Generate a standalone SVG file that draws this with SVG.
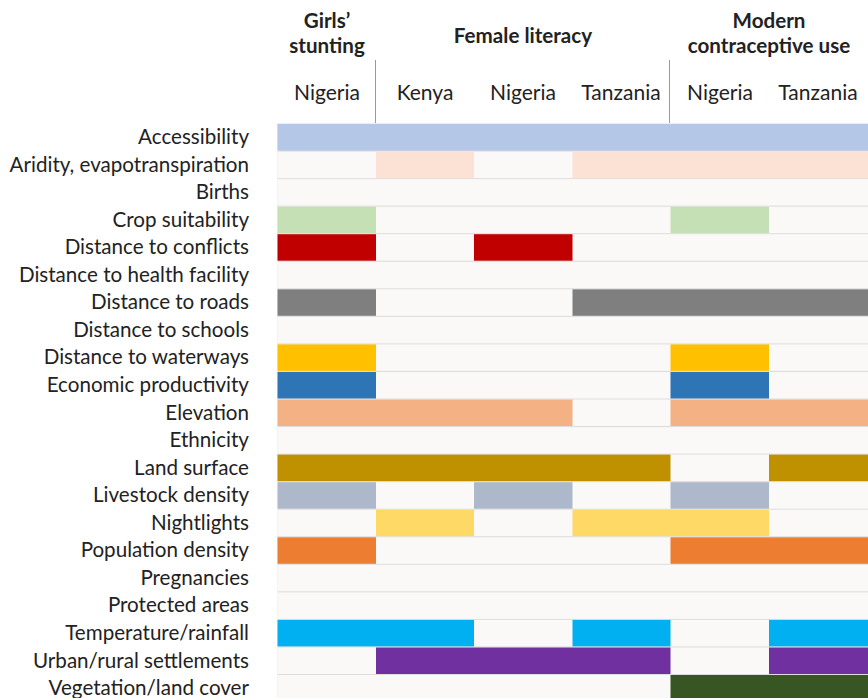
<svg xmlns="http://www.w3.org/2000/svg" width="868" height="698" viewBox="0 0 868 698">
<style>
text{font-family:Lato,"Open Sans","Liberation Sans",sans-serif;fill:#222222}
.lab{font-size:20.6px;text-anchor:end}
.hd{font-size:20.6px;font-weight:bold;text-anchor:middle}
.cty{font-size:21px;text-anchor:middle}
.e{fill:#faf9f8}
.vl{stroke:#9a9a9a;stroke-width:1}
.a{fill:#b4c7e7}.p{fill:#fbe2d5}.g{fill:#c5e0b4}.r{fill:#c00000}.gr{fill:#7f7f7f}
.y{fill:#ffc000}.b{fill:#2e75b6}.o{fill:#f4b183}.ls{fill:#bf9000}.lv{fill:#adb9ca}
.nl{fill:#ffd966}.pd{fill:#ed7d31}.t{fill:#00b0f0}.u{fill:#7030a0}.v{fill:#375623}
</style>
<rect width="868" height="698" fill="#ffffff"/>
<g id="header">
<text class="hd" x="327" y="28">Girls’</text>
<text class="hd" x="327" y="53">stunting</text>
<text class="hd" x="523" y="43">Female literacy</text>
<text class="hd" x="769" y="28">Modern</text>
<text class="hd" x="769" y="53">contraceptive use</text>
<text class="cty" x="327" y="100">Nigeria</text>
<text class="cty" x="425" y="100">Kenya</text>
<text class="cty" x="523" y="100">Nigeria</text>
<text class="cty" x="621" y="100">Tanzania</text>
<text class="cty" x="720" y="100">Nigeria</text>
<text class="cty" x="818" y="100">Tanzania</text>
</g>
<g id="connectors">
<line class="vl" x1="375.5" y1="60" x2="375.5" y2="123"/>
<line class="vl" x1="669.5" y1="60" x2="669.5" y2="123"/>
</g>
<g id="grid">
<rect x="277.5" y="123.5" width="590.5" height="575" fill="#dedddc"/>
</g>
<g id="r0"><text class="lab" x="249" y="144">Accessibility</text><rect class="a" x="277.5" y="124" width="590.5" height="26.6"/></g>
<g id="r1"><text class="lab" x="249" y="171.5">Aridity, evapotranspiration</text><rect class="e" x="277.5" y="151.6" width="590.5" height="26.5"/><rect class="p" x="376" y="151.6" width="98" height="26.5"/><rect class="p" x="572.5" y="151.6" width="295.5" height="26.5"/></g>
<g id="r2"><text class="lab" x="249" y="199">Births</text><rect class="e" x="277.5" y="179.1" width="590.5" height="26.5"/></g>
<g id="r3"><text class="lab" x="249" y="226.6">Crop suitability</text><rect class="e" x="277.5" y="206.7" width="590.5" height="26.5"/><rect class="g" x="277.5" y="206.7" width="98.5" height="26.5"/><rect class="g" x="670.5" y="206.7" width="98.5" height="26.5"/></g>
<g id="r4"><text class="lab" x="249" y="254.2">Distance to conflicts</text><rect class="e" x="277.5" y="234.2" width="590.5" height="26.5"/><rect class="r" x="277.5" y="234.2" width="98.5" height="26.5"/><rect class="r" x="474" y="234.2" width="98.5" height="26.5"/></g>
<g id="r5"><text class="lab" x="249" y="281.8">Distance to health facility</text><rect class="e" x="277.5" y="261.8" width="590.5" height="26.5"/></g>
<g id="r6"><text class="lab" x="249" y="309.3">Distance to roads</text><rect class="e" x="277.5" y="289.3" width="590.5" height="26.5"/><rect class="gr" x="277.5" y="289.3" width="98.5" height="26.5"/><rect class="gr" x="572.5" y="289.3" width="295.5" height="26.5"/></g>
<g id="r7"><text class="lab" x="249" y="336.9">Distance to schools</text><rect class="e" x="277.5" y="316.9" width="590.5" height="26.5"/></g>
<g id="r8"><text class="lab" x="249" y="364.4">Distance to waterways</text><rect class="e" x="277.5" y="344.4" width="590.5" height="26.5"/><rect class="y" x="277.5" y="344.4" width="98.5" height="26.5"/><rect class="y" x="670.5" y="344.4" width="98.5" height="26.5"/></g>
<g id="r9"><text class="lab" x="249" y="392">Economic productivity</text><rect class="e" x="277.5" y="372" width="590.5" height="26.5"/><rect class="b" x="277.5" y="372" width="98.5" height="26.5"/><rect class="b" x="670.5" y="372" width="98.5" height="26.5"/></g>
<g id="r10"><text class="lab" x="249" y="419.5">Elevation</text><rect class="e" x="277.5" y="399.5" width="590.5" height="26.5"/><rect class="o" x="277.5" y="399.5" width="295" height="26.5"/><rect class="o" x="670.5" y="399.5" width="197.5" height="26.5"/></g>
<g id="r11"><text class="lab" x="249" y="447.1">Ethnicity</text><rect class="e" x="277.5" y="427.1" width="590.5" height="26.5"/></g>
<g id="r12"><text class="lab" x="249" y="474.6">Land surface</text><rect class="e" x="277.5" y="454.6" width="590.5" height="26.5"/><rect class="ls" x="277.5" y="454.6" width="393" height="26.5"/><rect class="ls" x="769" y="454.6" width="99" height="26.5"/></g>
<g id="r13"><text class="lab" x="249" y="502.2">Livestock density</text><rect class="e" x="277.5" y="482.2" width="590.5" height="26.5"/><rect class="lv" x="277.5" y="482.2" width="98.5" height="26.5"/><rect class="lv" x="474" y="482.2" width="98.5" height="26.5"/><rect class="lv" x="670.5" y="482.2" width="98.5" height="26.5"/></g>
<g id="r14"><text class="lab" x="249" y="529.7">Nightlights</text><rect class="e" x="277.5" y="509.7" width="590.5" height="26.5"/><rect class="nl" x="376" y="509.7" width="98" height="26.5"/><rect class="nl" x="572.5" y="509.7" width="196.5" height="26.5"/></g>
<g id="r15"><text class="lab" x="249" y="557.3">Population density</text><rect class="e" x="277.5" y="537.3" width="590.5" height="26.5"/><rect class="pd" x="277.5" y="537.3" width="98.5" height="26.5"/><rect class="pd" x="670.5" y="537.3" width="197.5" height="26.5"/></g>
<g id="r16"><text class="lab" x="249" y="584.8">Pregnancies</text><rect class="e" x="277.5" y="564.8" width="590.5" height="26.5"/></g>
<g id="r17"><text class="lab" x="249" y="612.4">Protected areas</text><rect class="e" x="277.5" y="592.4" width="590.5" height="26.5"/></g>
<g id="r18"><text class="lab" x="249" y="639.9">Temperature/rainfall</text><rect class="e" x="277.5" y="619.9" width="590.5" height="26.5"/><rect class="t" x="277.5" y="619.9" width="196.5" height="26.5"/><rect class="t" x="572.5" y="619.9" width="98" height="26.5"/><rect class="t" x="769" y="619.9" width="99" height="26.5"/></g>
<g id="r19"><text class="lab" x="249" y="667.5">Urban/rural settlements</text><rect class="e" x="277.5" y="647.5" width="590.5" height="26.5"/><rect class="u" x="376" y="647.5" width="294.5" height="26.5"/><rect class="u" x="769" y="647.5" width="99" height="26.5"/></g>
<g id="r20"><text class="lab" x="249" y="695">Vegetation/land cover</text><rect class="e" x="277.5" y="675" width="590.5" height="23"/><rect class="v" x="670.5" y="675" width="197.5" height="23"/></g>
</svg>
